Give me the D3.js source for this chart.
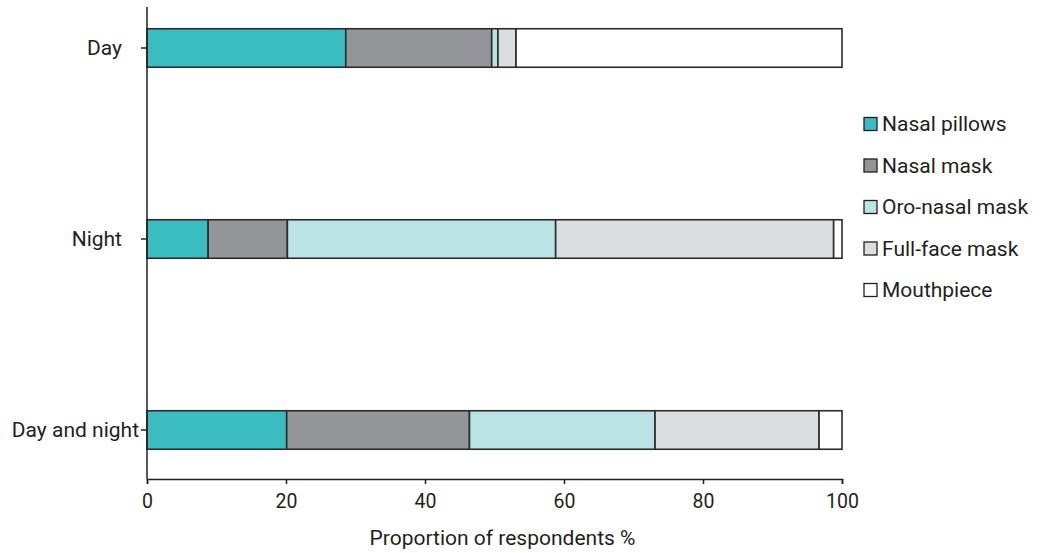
<!DOCTYPE html>
<html>
<head>
<meta charset="utf-8">
<script src="https://cdn.jsdelivr.net/npm/d3@7"></script>
<style>
  html, body { margin: 0; padding: 0; background: #fff; }
  svg { display: block; }
  text { font-family: Roboto, "DejaVu Sans", sans-serif; fill: #231f20; }
</style>
</head>
<body>
<svg id="chart" width="1049" height="553"></svg>
<script>
// ---- data ----
const categories = ["Day", "Night", "Day and night"];
const seriesNames = ["Nasal pillows", "Nasal mask", "Oro-nasal mask", "Full-face mask", "Mouthpiece"];
const nasalPillows = [28.6, 8.8, 20.1];
const nasalMask    = [21.0, 11.4, 26.3];
const oroNasalMask = [0.9, 38.6, 26.7];
const fullFaceMask = [2.6, 40.0, 23.6];
const mouthpiece   = [46.9, 1.2, 3.3];
const xTicks = [0, 20, 40, 60, 80, 100];
const xTitle = "Proportion of respondents %";

const colors = ["#3bbcc1", "#939598", "#bae3e5", "#dcdddf", "#ffffff"];

// ---- layout ----
const svg = d3.select("#chart");
const x = d3.scaleLinear().domain([0, 100]).range([147, 842]);
const y = d3.scalePoint().domain(categories).range([48, 430]);
const barH = 38.5;
const axisTop = 7, axisBottom = 479;

const table = categories.map((c, i) => ({
  cat: c,
  "Nasal pillows": nasalPillows[i],
  "Nasal mask": nasalMask[i],
  "Oro-nasal mask": oroNasalMask[i],
  "Full-face mask": fullFaceMask[i],
  "Mouthpiece": mouthpiece[i]
}));
const stacked = d3.stack().keys(seriesNames)(table);

// bars
const g = svg.append("g");
stacked.forEach((layer, si) => {
  g.selectAll(null).data(layer).enter().append("rect")
    .attr("x", d => x(d[0]))
    .attr("width", d => x(d[1]) - x(d[0]))
    .attr("y", d => y(d.data.cat) - barH / 2)
    .attr("height", barH)
    .attr("fill", colors[si])
    .attr("stroke", "#2b2b2b")
    .attr("stroke-width", 1.6);
});

// x axis
const xAxis = svg.append("g")
  .attr("transform", `translate(0,${axisBottom})`)
  .call(d3.axisBottom(x).tickValues(xTicks).tickSize(5).tickPadding(10).tickSizeOuter(5));
xAxis.select(".domain").attr("stroke", "#231f20").attr("stroke-width", 1.5);
xAxis.selectAll(".tick line").attr("stroke", "#231f20").attr("stroke-width", 1.5);
xAxis.selectAll(".tick text").attr("font-size", 19.5).attr("font-family", "Roboto, sans-serif").attr("fill", "#231f20");

// y axis
const yAxisG = svg.append("g").attr("transform", `translate(${x(0)},0)`);
yAxisG.append("line")
  .attr("x1", 0).attr("x2", 0).attr("y1", axisTop).attr("y2", axisBottom)
  .attr("stroke", "#231f20").attr("stroke-width", 1.5);
const labelEnd = [ -25, -25, -8 ];
categories.forEach((c, i) => {
  yAxisG.append("line")
    .attr("x1", -6).attr("x2", 0)
    .attr("y1", y(c)).attr("y2", y(c))
    .attr("stroke", "#231f20").attr("stroke-width", 1.5);
  yAxisG.append("text")
    .attr("x", labelEnd[i]).attr("y", y(c))
    .attr("dy", "0.35em")
    .attr("text-anchor", "end")
    .attr("font-size", 21)
    .text(c);
});

// x title
svg.append("text")
  .attr("x", (x(0) + x(100)) / 2 + 8).attr("y", 545)
  .attr("text-anchor", "middle")
  .attr("font-size", 21)
  .text(xTitle);

// legend
const legend = svg.append("g").attr("transform", "translate(864,124)");
seriesNames.forEach((s, i) => {
  const row = legend.append("g").attr("transform", `translate(0,${i * 41.5})`);
  row.append("rect")
    .attr("x", 0).attr("y", -6.5).attr("width", 13).attr("height", 13)
    .attr("fill", colors[i]).attr("stroke", "#231f20").attr("stroke-width", 1.3);
  row.append("text")
    .attr("x", 18).attr("y", 0).attr("dy", "0.35em")
    .attr("font-size", 21)
    .text(s);
});
</script>
</body>
</html>
